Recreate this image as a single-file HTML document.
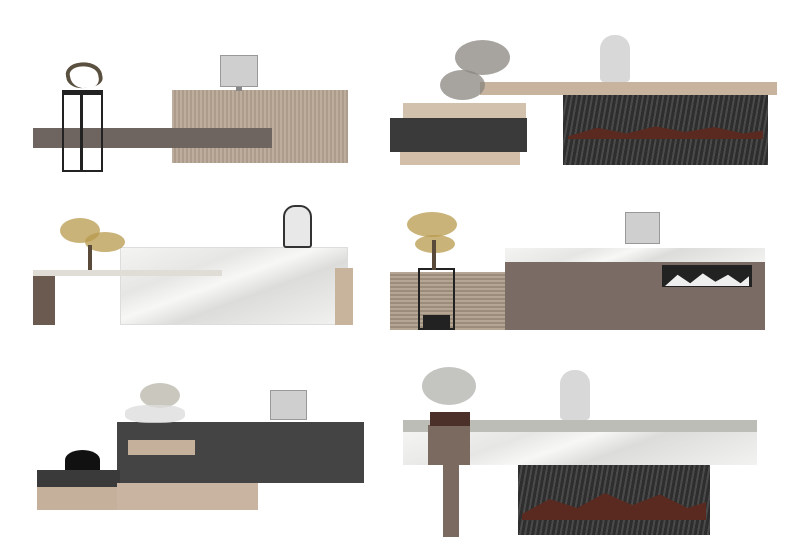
<!DOCTYPE html>
<html><head><meta charset="utf-8"><style>
body{margin:0;width:790px;height:558px;background:#fff;position:relative;overflow:hidden;font-family:"Liberation Sans",sans-serif}
div{position:absolute;box-sizing:border-box}
.stripe{background:repeating-linear-gradient(90deg,#bcad9d 0 2px,#ad9c8c 2px 4px)}
.hstripe{background:repeating-linear-gradient(0deg,#b5a593 0 2px,#9c8c7c 2px 4px)}
.marble{background:linear-gradient(160deg,#f4f4f2 0%,#e6e6e4 30%,#f7f7f5 45%,#dcdcda 60%,#f2f2f0 100%)}
.blk{background:repeating-linear-gradient(100deg,#2e2e2e 0 3px,#4a4a4a 3px 5px)}
.mon{background:#cfcfcf;border:1px solid #999}
.tree{border-radius:50%;background:#b89a4c;opacity:.75}
</style></head><body>
<!-- Desk 1 -->
<div class="stripe" style="left:172px;top:90px;width:176px;height:73px"></div>
<div style="left:33px;top:128px;width:239px;height:20px;background:#6e6460"></div>
<div style="left:62px;top:90px;width:41px;height:82px;border:2px solid #222;border-top:5px solid #222"></div>
<div style="left:80px;top:92px;width:3px;height:78px;background:#222"></div>
<div style="left:66px;top:62px;width:36px;height:26px;border-radius:40% 60% 30% 50%;border:4px solid #5a5040;border-bottom:none;transform:rotate(-10deg)"></div>
<div class="mon" style="left:220px;top:55px;width:38px;height:32px"></div>
<div style="left:236px;top:87px;width:6px;height:4px;background:#888"></div>
<!-- Desk 2 -->
<div style="left:480px;top:82px;width:297px;height:13px;background:#c8b49e"></div>
<div class="blk" style="left:563px;top:95px;width:205px;height:70px"></div>
<div style="left:568px;top:125px;width:195px;height:14px;background:#5a2a20;clip-path:polygon(0 80%,15% 20%,30% 60%,45% 10%,60% 50%,75% 15%,90% 60%,100% 40%,100% 100%,0 100%)"></div>
<div style="left:403px;top:103px;width:123px;height:17px;background:#d2c1ac"></div>
<div style="left:390px;top:118px;width:137px;height:34px;background:#3a3a3a"></div>
<div style="left:400px;top:152px;width:120px;height:13px;background:#d3bfa9"></div>
<div style="left:600px;top:35px;width:30px;height:47px;background:#d8d8d8;border-radius:14px 14px 4px 4px"></div>
<div class="tree" style="left:455px;top:40px;width:55px;height:35px;background:#8a8680"></div>
<div class="tree" style="left:440px;top:70px;width:45px;height:30px;background:#8a8680"></div>
<!-- Desk 3 -->
<div class="marble" style="left:120px;top:247px;width:228px;height:78px;border:1px solid #ddd"></div>
<div style="left:33px;top:270px;width:189px;height:6px;background:#e0dcd6"></div>
<div style="left:33px;top:276px;width:22px;height:49px;background:#6a5a50"></div>
<div style="left:335px;top:268px;width:18px;height:57px;background:#c8b39c"></div>
<div style="left:283px;top:205px;width:29px;height:43px;background:#e8e8e8;border:2px solid #333;border-radius:12px 12px 3px 3px"></div>
<div class="tree" style="left:60px;top:218px;width:40px;height:25px"></div>
<div class="tree" style="left:85px;top:232px;width:40px;height:20px"></div>
<div style="left:88px;top:245px;width:4px;height:25px;background:#5a4a3a"></div>
<!-- Desk 4 -->
<div class="marble" style="left:505px;top:248px;width:260px;height:14px"></div>
<div style="left:505px;top:262px;width:260px;height:68px;background:#7a6c64"></div>
<div class="hstripe" style="left:390px;top:272px;width:115px;height:58px"></div>
<div style="left:662px;top:265px;width:90px;height:22px;background:#222"></div>
<div style="left:665px;top:272px;width:84px;height:14px;background:#eee;clip-path:polygon(0 100%,15% 20%,30% 80%,45% 10%,60% 70%,75% 20%,90% 80%,100% 30%,100% 100%)"></div>
<div style="left:418px;top:268px;width:37px;height:62px;border:2px solid #222"></div>
<div style="left:423px;top:315px;width:27px;height:14px;background:#222"></div>
<div class="mon" style="left:625px;top:212px;width:35px;height:32px"></div>
<div class="tree" style="left:407px;top:212px;width:50px;height:25px"></div>
<div class="tree" style="left:415px;top:235px;width:40px;height:18px"></div>
<div style="left:432px;top:240px;width:4px;height:30px;background:#5a4a3a"></div>
<!-- Desk 5 -->
<div style="left:117px;top:422px;width:247px;height:61px;background:#444"></div>
<div style="left:128px;top:440px;width:67px;height:15px;background:#c5b09c"></div>
<div style="left:37px;top:470px;width:83px;height:17px;background:#3a3a3a"></div>
<div style="left:37px;top:487px;width:213px;height:23px;background:#c5b09c"></div>
<div style="left:117px;top:483px;width:141px;height:27px;background:#c8b4a0"></div>
<div style="left:65px;top:450px;width:35px;height:20px;background:#111;border-radius:50% 50% 0 0"></div>
<div class="mon" style="left:270px;top:390px;width:37px;height:30px"></div>
<div class="tree" style="left:140px;top:383px;width:40px;height:25px;background:#b8b4a8"></div>
<div style="left:125px;top:405px;width:60px;height:18px;background:#ddd;border-radius:40%;opacity:.8"></div>
<!-- Desk 6 -->
<div style="left:403px;top:420px;width:354px;height:12px;background:#bdbdb8"></div>
<div class="marble" style="left:403px;top:432px;width:354px;height:33px"></div>
<div style="left:428px;top:425px;width:42px;height:40px;background:#7a6a60"></div>
<div style="left:443px;top:465px;width:16px;height:72px;background:#7a6a60"></div>
<div class="blk" style="left:518px;top:465px;width:192px;height:70px"></div>
<div style="left:522px;top:490px;width:184px;height:30px;background:#5a2a20;clip-path:polygon(0 80%,15% 30%,30% 60%,45% 10%,60% 50%,75% 15%,90% 60%,100% 40%,100% 100%,0 100%)"></div>
<div style="left:430px;top:412px;width:40px;height:14px;background:#4a3028"></div>
<div class="tree" style="left:422px;top:367px;width:54px;height:38px;background:#b0b0ac"></div>
<div style="left:560px;top:370px;width:30px;height:50px;background:#d8d8d8;border-radius:14px 14px 4px 4px"></div>
</body></html>
